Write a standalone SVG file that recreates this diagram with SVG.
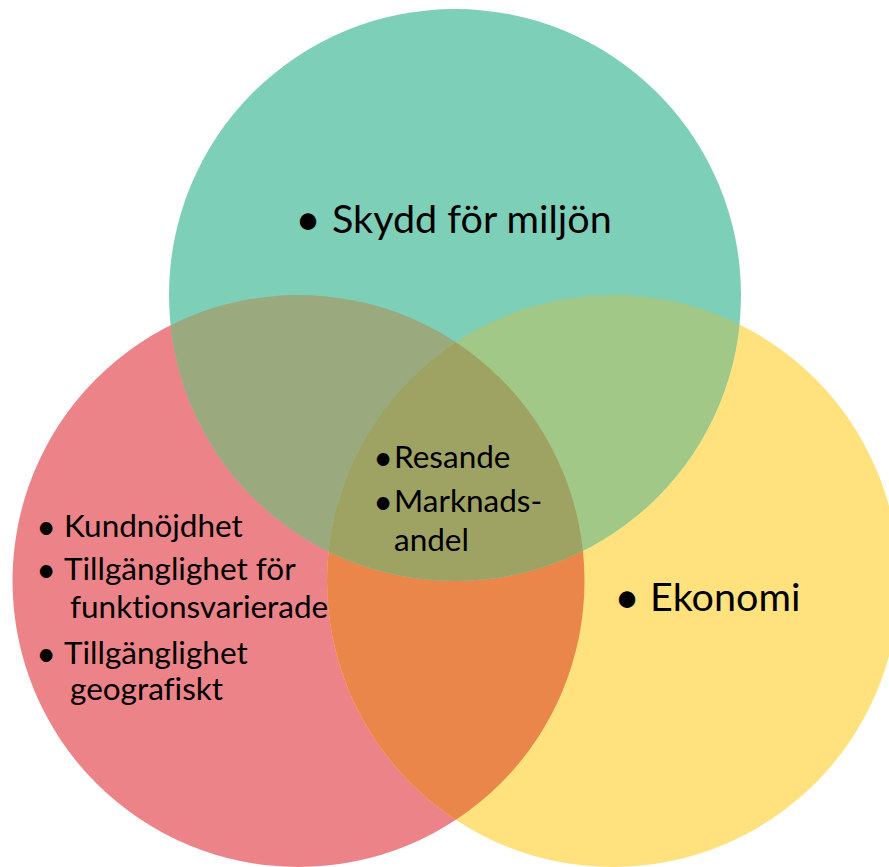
<svg xmlns="http://www.w3.org/2000/svg" width="889" height="867" viewBox="0 0 889 867">
<style>
text{font-family:Lato,"Open Sans","Liberation Sans",sans-serif;fill:#000;font-variant-ligatures:none}
.big{font-size:39.5px}
.mid{font-size:31.5px}
.bb{font-size:44px;text-anchor:middle}
.bm{font-size:34px;text-anchor:middle}
</style>
<defs>
<clipPath id="cRed"><circle cx="298.5" cy="581" r="286"/></clipPath>
<clipPath id="cYel"><circle cx="613" cy="581" r="286"/></clipPath>
</defs>
<rect width="889" height="867" fill="#fff"/>
<g id="red"><circle cx="298.5" cy="581" r="286" fill="#EC8389"/></g>
<g id="yellow"><circle cx="613" cy="581" r="286" fill="#FFE27D"/></g>
<g id="red-yellow"><circle cx="613" cy="581" r="286" fill="#EA864A" clip-path="url(#cRed)"/></g>
<g id="green"><circle cx="455" cy="295" r="286" fill="#7ECFB8"/></g>
<g id="green-red"><circle cx="455" cy="295" r="286" fill="#9AA97E" clip-path="url(#cRed)"/></g>
<g id="green-yellow"><circle cx="455" cy="295" r="286" fill="#A1C887" clip-path="url(#cYel)"/></g>
<g id="center" clip-path="url(#cYel)"><circle cx="455" cy="295" r="286" fill="#9EA262" clip-path="url(#cRed)"/></g>
<g id="labels">
<text class="bb" x="308" y="235">•</text>
<text class="big" x="332" y="233">Skydd för miljön</text>
<text class="bb" x="627" y="613">•</text>
<text class="big" x="650" y="611">Ekonomi</text>
<text class="bm" x="46" y="539">•</text>
<text class="mid" x="64" y="537">Kundnöjdhet</text>
<text class="bm" x="46" y="582">•</text>
<text class="mid" x="64" y="580">Tillgänglighet för</text>
<text class="mid" x="70" y="618">funktionsvarierade</text>
<text class="bm" x="46" y="666">•</text>
<text class="mid" x="64" y="664">Tillgänglighet</text>
<text class="mid" x="70" y="700">geografiskt</text>
<text class="bm" x="383" y="470">•</text>
<text class="mid" x="394" y="468">Resande</text>
<text class="bm" x="383" y="514">•</text>
<text class="mid" x="394" y="512">Marknads-</text>
<text class="mid" x="394" y="551">andel</text>
</g>
</svg>
